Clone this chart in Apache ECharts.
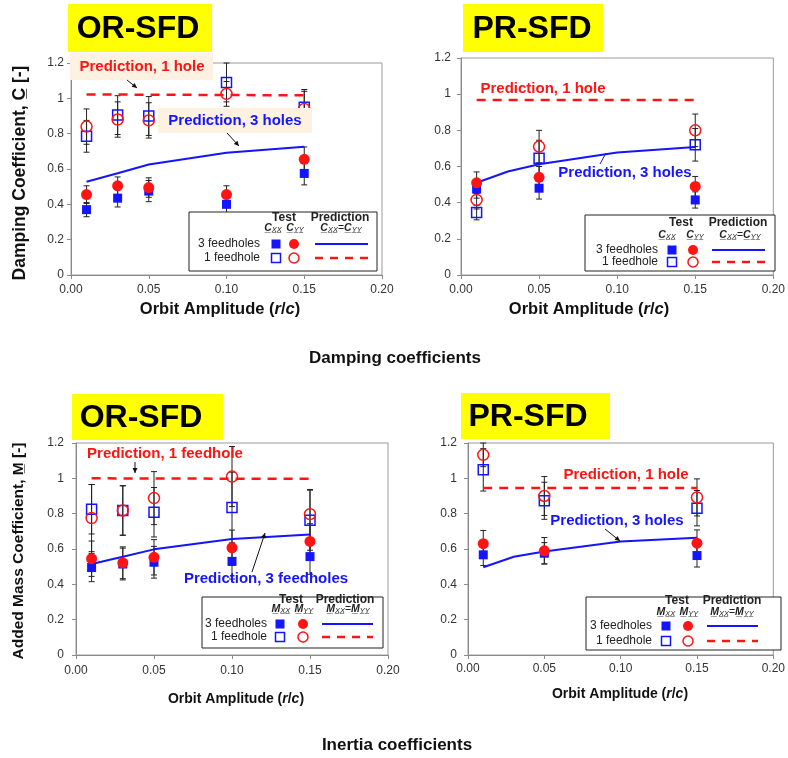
<!DOCTYPE html>
<html><head><meta charset="utf-8">
<script src="https://cdn.jsdelivr.net/npm/echarts@6/dist/echarts.min.js"></script>
<style>html,body{margin:0;padding:0;background:#fff}#c{width:788px;height:758px}</style>
</head><body><div id="c"></div>
<script>
// ---------- DATA ----------
const xTicks = [0, 0.05, 0.10, 0.15, 0.20];
const predX = [0.01, 0.03, 0.05, 0.10, 0.15];
const predFlatX = [0.01, 0.15];

// Panel A: Damping, OR-SFD
const dOR_x = [0.01, 0.03, 0.05, 0.10, 0.15];
const dOR_xx3 = [0.37, 0.435, 0.475, 0.40, 0.575];
const dOR_xx3_err = [0.04, 0.05, 0.06, 0.05, 0.065];
const dOR_yy3 = [0.455, 0.505, 0.495, 0.455, 0.655];
const dOR_yy3_err = [0.05, 0.05, 0.055, 0.05, 0.07];
const dOR_xx1 = [0.785, 0.905, 0.90, 1.09, 0.95];
const dOR_xx1_err = [0.09, 0.11, 0.11, 0.11, 0.10];
const dOR_yy1 = [0.84, 0.88, 0.875, 1.025, 0.94];
const dOR_yy1_err = [0.10, 0.10, 0.10, 0.07, 0.10];
const dOR_pred3 = [0.528, 0.576, 0.625, 0.692, 0.726];
const dOR_pred1 = [1.022, 1.017];

// Panel B: Damping, PR-SFD
const dPR_x = [0.01, 0.05, 0.15];
const dPR_xx3 = [0.475, 0.48, 0.415];
const dPR_xx3_err = [0.05, 0.06, 0.045];
const dPR_yy3 = [0.51, 0.54, 0.49];
const dPR_yy3_err = [0.06, 0.06, 0.055];
const dPR_xx1 = [0.345, 0.645, 0.72];
const dPR_xx1_err = [0.04, 0.10, 0.09];
const dPR_yy1 = [0.415, 0.71, 0.80];
const dPR_yy1_err = [0.05, 0.09, 0.09];
const dPR_pred3 = [0.51, 0.572, 0.612, 0.678, 0.708];
const dPR_pred1 = [0.968, 0.968];

// Panel C: Added mass, OR-SFD
const mOR_x = [0.01, 0.03, 0.05, 0.10, 0.15];
const mOR_xx3 = [0.495, 0.515, 0.525, 0.53, 0.557];
const mOR_xx3_err = [0.08, 0.09, 0.09, 0.10, 0.10];
const mOR_yy3 = [0.545, 0.522, 0.553, 0.607, 0.643];
const mOR_yy3_err = [0.10, 0.09, 0.10, 0.10, 0.10];
const mOR_xx1 = [0.825, 0.818, 0.808, 0.835, 0.763];
const mOR_xx1_err = [0.14, 0.14, 0.14, 0.20, 0.17];
const mOR_yy1 = [0.775, 0.818, 0.888, 1.01, 0.797];
const mOR_yy1_err = [0.19, 0.14, 0.15, 0.17, 0.14];
const mOR_pred3 = [0.515, 0.556, 0.598, 0.657, 0.682];
const mOR_pred1 = [1.0, 0.997];

// Panel D: Added mass, PR-SFD
const mPR_x = [0.01, 0.05, 0.15];
const mPR_xx3 = [0.567, 0.576, 0.563];
const mPR_xx3_err = [0.06, 0.06, 0.065];
const mPR_yy3 = [0.63, 0.59, 0.633];
const mPR_yy3_err = [0.075, 0.075, 0.075];
const mPR_xx1 = [1.048, 0.873, 0.831];
const mPR_xx1_err = [0.12, 0.105, 0.10];
const mPR_yy1 = [1.133, 0.90, 0.892];
const mPR_yy1_err = [0.067, 0.11, 0.105];
const mPR_pred3 = [0.497, 0.556, 0.586, 0.642, 0.664];
const mPR_pred1 = [0.945, 0.945];

// ---------- STYLE / LAYOUT ----------
const FONT = '"Liberation Sans", Arial, Helvetica, sans-serif';
const BLUE = '#1414ff', RED = '#ff1414';

const panels = [
  {grid:{left:71, top:63, width:311, height:212}, yMargin:7, xMargin:9,
   x:dOR_x, xx3:dOR_xx3, xx3e:dOR_xx3_err, yy3:dOR_yy3, yy3e:dOR_yy3_err,
   xx1:dOR_xx1, xx1e:dOR_xx1_err, yy1:dOR_yy1, yy1e:dOR_yy1_err, p3:dOR_pred3, p1:dOR_pred1},
  {grid:{left:461, top:58, width:316, height:217}, yMargin:10, xMargin:9,
   x:dPR_x, xx3:dPR_xx3, xx3e:dPR_xx3_err, yy3:dPR_yy3, yy3e:dPR_yy3_err,
   xx1:dPR_xx1, xx1e:dPR_xx1_err, yy1:dPR_yy1, yy1e:dPR_yy1_err, p3:dPR_pred3, p1:dPR_pred1},
  {grid:{left:76, top:443, width:312, height:212}, yMargin:12, xMargin:10,
   x:mOR_x, xx3:mOR_xx3, xx3e:mOR_xx3_err, yy3:mOR_yy3, yy3e:mOR_yy3_err,
   xx1:mOR_xx1, xx1e:mOR_xx1_err, yy1:mOR_yy1, yy1e:mOR_yy1_err, p3:mOR_pred3, p1:mOR_pred1},
  {grid:{left:468, top:443, width:310, height:212}, yMargin:11, xMargin:8,
   x:mPR_x, xx3:mPR_xx3, xx3e:mPR_xx3_err, yy3:mPR_yy3, yy3e:mPR_yy3_err,
   xx1:mPR_xx1, xx1e:mPR_xx1_err, yy1:mPR_yy1, yy1e:mPR_yy1_err, p3:mPR_pred3, p1:mPR_pred1}
];

function errRender(params, api) {
  const x = api.value(0), y = api.value(1), e = api.value(2);
  const t = api.coord([x, y + e]), b = api.coord([x, y - e]);
  const hw = 3, st = {stroke:'#222', lineWidth:1};
  return {type:'group', children:[
    {type:'line', shape:{x1:t[0], y1:t[1], x2:b[0], y2:b[1]}, style:st},
    {type:'line', shape:{x1:t[0]-hw, y1:t[1], x2:t[0]+hw, y2:t[1]}, style:st},
    {type:'line', shape:{x1:b[0]-hw, y1:b[1], x2:b[0]+hw, y2:b[1]}, style:st}
  ]};
}

const grids = [], xAxes = [], yAxes = [], series = [];
panels.forEach((p, i) => {
  grids.push(Object.assign({show:true, borderColor:'#9a9a9a', borderWidth:1, backgroundColor:'#fff'}, p.grid));
  xAxes.push({type:'value', gridIndex:i, min:0, max:0.2, interval:0.05,
    axisLine:{show:true, onZero:false, lineStyle:{color:'#8a8a8a'}},
    axisTick:{show:true, length:4, lineStyle:{color:'#8a8a8a'}},
    splitLine:{show:false},
    axisLabel:{margin:p.xMargin, fontSize:12, color:'#333', fontFamily:FONT,
      formatter:v => v.toFixed(2)}});
  yAxes.push({type:'value', gridIndex:i, min:0, max:1.2, interval:0.2,
    axisLine:{show:true, lineStyle:{color:'#8a8a8a'}},
    axisTick:{show:true, length:4, lineStyle:{color:'#8a8a8a'}},
    splitLine:{show:false},
    axisLabel:{margin:p.yMargin, fontSize:12, color:'#333', fontFamily:FONT,
      formatter:v => String(Math.round(v*10)/10)}});
  const pts = arr => p.x.map((xv, j) => [xv, arr[j]]);
  const errData = [];
  [[p.xx3,p.xx3e],[p.yy3,p.yy3e],[p.xx1,p.xx1e],[p.yy1,p.yy1e]].forEach(([v,e]) => {
    p.x.forEach((xv, j) => errData.push([xv, v[j], e[j]]));
  });
  series.push({type:'custom', xAxisIndex:i, yAxisIndex:i, renderItem:errRender,
    encode:{x:0, y:1}, data:errData, z:2, silent:true});
  series.push({type:'line', xAxisIndex:i, yAxisIndex:i, data:predX.map((xv,j)=>[xv,p.p3[j]]),
    showSymbol:false, symbol:'none', lineStyle:{color:BLUE, width:2}, z:3});
  series.push({type:'line', xAxisIndex:i, yAxisIndex:i, data:predFlatX.map((xv,j)=>[xv,p.p1[j]]),
    showSymbol:false, symbol:'none', lineStyle:{color:RED, width:2.5, type:[9,7]}, z:3});
  series.push({type:'scatter', xAxisIndex:i, yAxisIndex:i, data:pts(p.xx3), symbol:'rect', symbolSize:9,
    itemStyle:{color:BLUE, opacity:1}, z:4});
  series.push({type:'scatter', xAxisIndex:i, yAxisIndex:i, data:pts(p.yy3), symbol:'circle', symbolSize:11,
    itemStyle:{color:RED, opacity:1}, z:5});
  series.push({type:'scatter', xAxisIndex:i, yAxisIndex:i, data:pts(p.xx1), symbol:'rect', symbolSize:10,
    itemStyle:{color:'rgba(255,255,255,0)', borderColor:BLUE, borderWidth:1.5, opacity:1}, z:6});
  series.push({type:'scatter', xAxisIndex:i, yAxisIndex:i, data:pts(p.yy1), symbol:'circle', symbolSize:11,
    itemStyle:{color:'rgba(255,255,255,0)', borderColor:RED, borderWidth:1.5, opacity:1}, z:7});
});

// ---------- GRAPHIC (titles, annotations, legends) ----------
const G = [];
function T(x, y, text, o) {
  const st = Object.assign({text:text, fontFamily:FONT, fontSize:12, fill:'#222',
    align:'center', verticalAlign:'middle', textAlign:'center', textVerticalAlign:'middle'}, o || {});
  return {type:'text', x:x, y:y, z:60, rotation:(o && o.rot) || 0, style:st};
}
function R(x, y, w, h, fill, stroke, lw) {
  return {type:'rect', z:55, shape:{x:x, y:y, width:w, height:h},
    style:{fill:fill, stroke:stroke || null, lineWidth:lw || 0}};
}
function arrow(x1, y1, x2, y2, color) {
  const a = Math.atan2(y2-y1, x2-x1), L = 5, W = 2.5;
  const c = Math.cos(a), s = Math.sin(a);
  G.push({type:'line', z:60, shape:{x1:x1, y1:y1, x2:x2, y2:y2}, style:{stroke:color, lineWidth:1}});
  G.push({type:'polygon', z:60, shape:{points:[[x2,y2],[x2-L*c+W*s, y2-L*s-W*c],[x2-L*c-W*s, y2-L*s+W*c]]},
    style:{fill:color}});
}

// Yellow titles
[[68,4,144,48,138,29,'OR-SFD'],[463,4,140,48,532,29,'PR-SFD'],
 [72,394,151,46,141,418,'OR-SFD'],[461,393,149,46,528,417,'PR-SFD']].forEach(t => {
  G.push(R(t[0], t[1], t[2], t[3], '#ffff00'));
  G.push(T(t[4], t[5], t[6], {fontSize:32, fontWeight:'bold', fill:'#000'}));
});

// Captions
G.push(T(395, 358, 'Damping coefficients', {fontSize:17, fontWeight:'bold', fill:'#111'}));
G.push(T(397, 745, 'Inertia coefficients', {fontSize:17, fontWeight:'bold', fill:'#111'}));

// Y axis titles
G.push(T(20, 173, 'Damping Coefficient, C\u0332 [-]', {fontSize:17.5, fontWeight:'bold', fill:'#111', rot:Math.PI/2}));
G.push(T(19, 551, 'Added Mass Coefficient, M\u0332 [-]', {fontSize:15.5, fontWeight:'bold', fill:'#111', rot:Math.PI/2}));

// X axis titles
function xName(x, y, fs) {
  G.push(T(x, y, '{b|Orbit Amplitude (}{i|r}{b|/}{i|c}{b|)}', {
    rich:{b:{fontSize:fs, fontWeight:'bold', fontFamily:FONT, fill:'#111'},
          i:{fontSize:fs, fontWeight:'bold', fontStyle:'italic', fontFamily:FONT, fill:'#111'}}}));
}
xName(220, 309, 16.5);
xName(589, 309, 16.5);
xName(236, 699, 14);
xName(620, 694, 14);

// Annotations panel A
G.push(R(70, 53, 143, 27, '#fdf1e2'));
G.push(T(142, 67, 'Prediction, 1 hole', {fontSize:15, fontWeight:'bold', fill:RED}));
arrow(127, 80, 137, 88, '#111');
G.push(R(158, 108, 154, 25, '#fdf1e2'));
G.push(T(235, 121, 'Prediction, 3 holes', {fontSize:15, fontWeight:'bold', fill:BLUE}));
arrow(227, 133, 239, 146, '#111');
// Panel B
G.push(T(543, 89, 'Prediction, 1 hole', {fontSize:15, fontWeight:'bold', fill:RED}));
G.push(T(625, 173, 'Prediction, 3 holes', {fontSize:15, fontWeight:'bold', fill:BLUE}));
G.push({type:'line', z:60, shape:{x1:600, y1:164, x2:606, y2:153}, style:{stroke:BLUE, lineWidth:1}});
// Panel C
G.push(T(165, 454, 'Prediction, 1 feedhole', {fontSize:15, fontWeight:'bold', fill:RED}));
arrow(135, 462, 135, 473, '#111');
G.push(T(266, 579, 'Prediction, 3 feedholes', {fontSize:15, fontWeight:'bold', fill:BLUE}));
arrow(252, 572, 265, 533, '#111');
// Panel D
G.push(T(626, 475, 'Prediction, 1 hole', {fontSize:15, fontWeight:'bold', fill:RED}));
G.push(T(617, 521, 'Prediction, 3 holes', {fontSize:15, fontWeight:'bold', fill:BLUE}));
arrow(605, 529, 620, 541, '#111');

// Legends
function legend(o, L) {
  G.push(R(o.bx, o.by, o.bw, o.bh, '#fff', '#222', 1));
  G.push(T(o.tX, o.hy, 'Test', {fontSize:12, fontWeight:'bold'}));
  G.push(T(o.pX, o.hy, 'Prediction', {fontSize:12, fontWeight:'bold'}));
  const rich = {a:{fontSize:10.5, fontStyle:'italic', fontWeight:'bold', fontFamily:FONT, fill:'#222', verticalAlign:'bottom'},
                s:{fontSize:7.5, fontStyle:'italic', fontFamily:FONT, fill:'#222', verticalAlign:'bottom'},
                e:{fontSize:10.5, fontFamily:FONT, fill:'#222', verticalAlign:'bottom'}};
  const U = '\u0332';
  const sub = t => t.split('').map(ch => ch + U).join('');
  G.push(T(o.s1X, o.sy, '{a|' + L + U + '}{s|' + sub('XX') + '}', {rich:rich}));
  G.push(T(o.s2X, o.sy, '{a|' + L + U + '}{s|' + sub('YY') + '}', {rich:rich}));
  G.push(T(o.eX, o.sy, '{a|' + L + U + '}{s|' + sub('XX') + '}{e|=}{a|' + L + U + '}{s|' + sub('YY') + '}', {rich:rich}));
  G.push(T(o.lR, o.r1, '3 feedholes', {align:'right', textAlign:'right'}));
  G.push(T(o.lR, o.r2, '1 feedhole', {align:'right', textAlign:'right'}));
  G.push({type:'rect', z:60, shape:{x:o.sqX-4.5, y:o.r1-4.5, width:9, height:9}, style:{fill:BLUE}});
  G.push({type:'circle', z:60, shape:{cx:o.ciX, cy:o.r1, r:5}, style:{fill:RED}});
  G.push({type:'rect', z:60, shape:{x:o.sqX-4.5, y:o.r2-4.5, width:9, height:9}, style:{fill:'none', stroke:BLUE, lineWidth:1.5}});
  G.push({type:'circle', z:60, shape:{cx:o.ciX, cy:o.r2, r:5}, style:{fill:'none', stroke:RED, lineWidth:1.5}});
  G.push({type:'line', z:60, shape:{x1:o.l1, y1:o.r1, x2:o.l2, y2:o.r1}, style:{stroke:BLUE, lineWidth:2}});
  G.push({type:'line', z:60, shape:{x1:o.l1, y1:o.r2, x2:o.l2, y2:o.r2}, style:{stroke:RED, lineWidth:2.5, lineDash:[8,7]}});
}
legend({bx:189, by:212, bw:188, bh:59, tX:284, pX:340, hy:218, s1X:273, s2X:295, eX:341, sy:228,
        lR:260, r1:244, r2:258, sqX:276, ciX:294, l1:315, l2:368}, 'C');
legend({bx:585, by:215, bw:190, bh:56, tX:681, pX:738, hy:223, s1X:667, s2X:695, eX:740, sy:235,
        lR:658, r1:250, r2:262, sqX:672, ciX:693, l1:712, l2:765}, 'C');
legend({bx:202, by:597, bw:181, bh:51, tX:291, pX:345, hy:600, s1X:281, s2X:304, eX:348, sy:609,
        lR:267, r1:624, r2:637, sqX:280, ciX:303, l1:322, l2:373}, 'M');
legend({bx:586, by:597, bw:195, bh:53, tX:677, pX:732, hy:601, s1X:666, s2X:689, eX:732, sy:612,
        lR:652, r1:626, r2:641, sqX:666, ciX:688, l1:707, l2:758}, 'M');

const chart = echarts.init(document.getElementById('c'), null, {renderer:'canvas'});
chart.setOption({
  backgroundColor:'#fff',
  animation:false,
  textStyle:{fontFamily:FONT},
  grid:grids, xAxis:xAxes, yAxis:yAxes, series:series,
  graphic:{elements:G}
});
</script>
</body></html>
